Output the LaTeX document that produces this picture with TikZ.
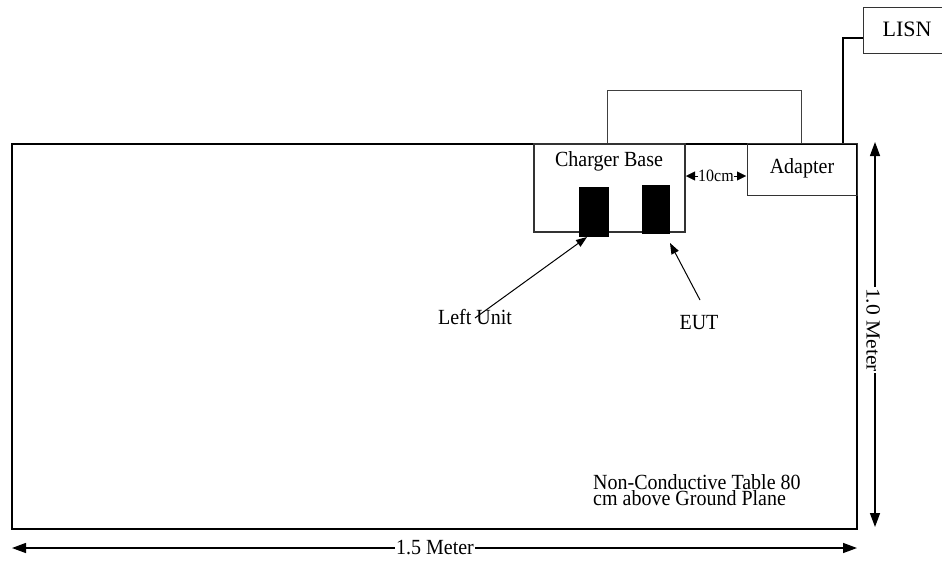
\documentclass[tikz,border=0pt]{standalone}
\usepackage{fontspec}
\setmainfont{Liberation Serif}
\usetikzlibrary{arrows.meta,calc}
\begin{document}
\begin{tikzpicture}[x=1pt,y=-1pt,
  thinbox/.style={draw=black!80,line width=1.1pt},
  thick border/.style={draw=black,line width=2.6pt},
  lbl/.style={font=\fontsize{20}{22}\selectfont,inner sep=0pt,yscale=1.08},
  dim/.style={line width=1.4pt,{Triangle[length=14pt,width=10pt]}-{Triangle[length=14pt,width=10pt]}},
  pointer/.style={line width=1pt,-{Triangle[length=11pt,width=8pt]}},
  unit/.style={fill=black,draw=black,line width=0.8pt}]
\useasboundingbox (0,0) rectangle (942,563);
% table
\draw[thick border] (12,144) rectangle (857,529);
% charger base
\draw[thinbox] (534,144) rectangle (685,232);
\node[lbl] (cb) at (609,161) {Charger Base};
\draw[unit] (579,187) rectangle (608,236);
\coordinate (lutip) at (587,237);
\draw[unit] (642,185) rectangle (669,233);
\coordinate (euttip) at (670,243);
% adapter
\node[thinbox,minimum width=110pt,minimum height=52pt,inner sep=0pt,anchor=north west] (ad) at (747,143) {};
\node[lbl] at (802,168) {Adapter};
% 10cm
\node[inner sep=0pt,font=\fontsize{16}{18}\selectfont,yscale=1.08] (ten) at (716,176) {10cm};
\draw[-{Triangle[length=9pt,width=9pt]}] (ten.west) -- (686,176);
\draw[-{Triangle[length=9pt,width=9pt]}] (ten.east) -- (746,176);
% cable loop
\draw[draw=black!75,line width=1pt] (607,143) -- (607,90) -- (801,90) -- (801,143);
% LISN
\node[thinbox,minimum width=82pt,minimum height=46pt,inner sep=0pt,anchor=north west] (lisn) at (863,7) {};
\node[font=\fontsize{22}{24}\selectfont,inner sep=0pt] at (907,29) {LISN};
\draw[line width=2.6pt] (843,143) -- (843,38) -- (863,38);
% labels and pointers
\node[lbl] (lu) at (475,317) {Left Unit};
\coordinate (lustart) at (475,318);
\draw[pointer] (lustart) -- (lutip);
\node[lbl] (eut) at (699,323) {EUT};
\coordinate (eutstart) at (700,300);
\draw[pointer] (eutstart) -- (euttip);
% note
\node[lbl,anchor=base west] (note1) at (593,489) {Non-Conductive Table 80};
\node[lbl,anchor=base west] (note2) at (593,505) {cm above Ground Plane};
% dimensions
\coordinate (vt) at (875,142);
\coordinate (vb) at (875,527);
\draw[dim] (vt) -- (vb);
\node[lbl,fill=white,inner xsep=1pt,rotate=-90] at (873,330) {1.0 Meter};
\coordinate (hl) at (12,548);
\coordinate (hr) at (857,548);
\draw[dim] (hl) -- (hr);
\node[lbl,fill=white,inner xsep=1pt] at (435,548) {1.5 Meter};
\end{tikzpicture}
\end{document}
